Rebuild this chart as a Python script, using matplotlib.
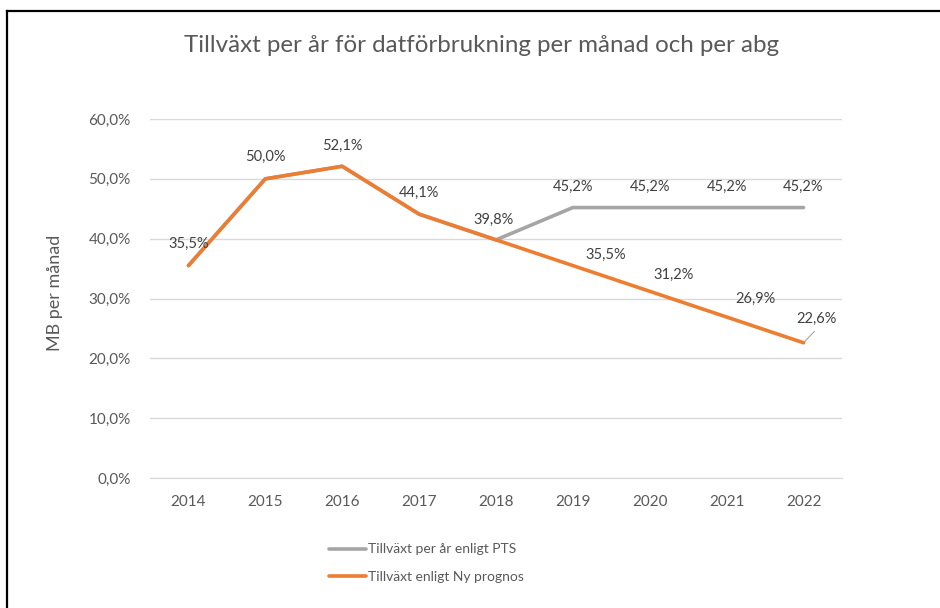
import matplotlib
matplotlib.use("Agg")
import matplotlib.pyplot as plt
from matplotlib.lines import Line2D

plt.rcParams['font.family'] = ['Lato', 'DejaVu Sans']

years = ['2014', '2015', '2016', '2017', '2018', '2019', '2020', '2021', '2022']
pts = [35.5, 50.0, 52.1, 44.1, 39.8, 45.2, 45.2, 45.2, 45.2]
ny = [35.5, 50.0, 52.1, 44.1, 39.8, 35.5, 31.2, 26.9, 22.6]
yticks = [0, 10, 20, 30, 40, 50, 60]
title = 'Tillväxt per år för datförbrukning per månad och per abg'
ylabel = 'MB per månad'
leg_pts = 'Tillväxt per år enligt PTS'
leg_ny = 'Tillväxt enligt Ny prognos'

GRAY = '#A5A5A5'
ORANGE = '#ED7D31'
TXT = '#595959'

W, H = 940, 608
fig = plt.figure(figsize=(W / 100, H / 100), dpi=100)
# outer frame (top and left edges visible)
fig.lines.append(Line2D([6.5 / W, 1.0], [1 - 10.5 / H, 1 - 10.5 / H],
                        transform=fig.transFigure, color='black', lw=1.6))
fig.lines.append(Line2D([6.5 / W, 6.5 / W], [0, 1 - 10.5 / H],
                        transform=fig.transFigure, color='black', lw=1.6))

ax = fig.add_axes([150 / W, 1 - 478 / H, (842 - 150) / W, (478 - 119) / H])
x = list(range(len(years)))
l1, = ax.plot(x, pts, color=GRAY, lw=2.6, solid_capstyle='round', zorder=3)
l2, = ax.plot(x, ny, color=ORANGE, lw=2.6, solid_capstyle='round', zorder=4)

ax.set_xlim(-0.5, len(years) - 0.5)
ax.set_ylim(0, 60)
ax.set_yticks(yticks)
ax.set_yticklabels([f'{v:.1f}%'.replace('.', ',') for v in yticks])
ax.set_xticks(x)
ax.set_xticklabels(years)
ax.yaxis.grid(True, color='#D9D9D9', lw=1)
ax.set_axisbelow(True)
for s in ['top', 'right', 'left']:
    ax.spines[s].set_visible(False)
ax.spines['bottom'].set_color('#D9D9D9')
ax.tick_params(axis='both', length=0, colors=TXT, labelsize=11)
ax.tick_params(axis='x', pad=12)
ax.tick_params(axis='y', pad=14)

fig.text(55 / W, 1 - 293 / H, ylabel, rotation=90, ha='center', va='center',
         color=TXT, fontsize=13)
fig.text(481 / W, 1 - 45 / H, title, ha='center', va='center', fontsize=17.4, color=TXT)

def fmt(v):
    return f'{v:.1f}%'.replace('.', ',')

off_ny = {0: (0, 15.5), 1: (0, 15.5), 2: (0, 15), 3: (0, 15), 4: (-2, 14.5),
          5: (24, 8), 6: (17, 11.5), 7: (21, 13), 8: (9, 17)}
for i, v in enumerate(ny):
    dx, dy = off_ny[i]
    ax.annotate(fmt(v), (i, v), xytext=(dx, dy), textcoords='offset points',
                ha='center', va='center', fontsize=10.5, color='#404040', zorder=6)
# leader line for the last orange point
ax.annotate('', (8, ny[8]), xytext=(8.14, ny[8] + 1.9),
            arrowprops=dict(arrowstyle='-', color='#A5A5A5', lw=0.8,
                            shrinkA=0, shrinkB=1))
for i in range(5, len(pts)):
    ax.annotate(fmt(pts[i]), (i, pts[i]), xytext=(0, 15), textcoords='offset points',
                ha='center', va='center', fontsize=10.5, color='#404040', zorder=6)

leg = fig.legend([l1, l2], [leg_pts, leg_ny], loc='center left',
                 bbox_to_anchor=(316 / W, 1 - 563 / H), frameon=False,
                 fontsize=10, handlelength=2.7, handletextpad=0.15, labelspacing=1.1)
for t in leg.get_texts():
    t.set_color(TXT)

fig.savefig('out.png', dpi=100)
